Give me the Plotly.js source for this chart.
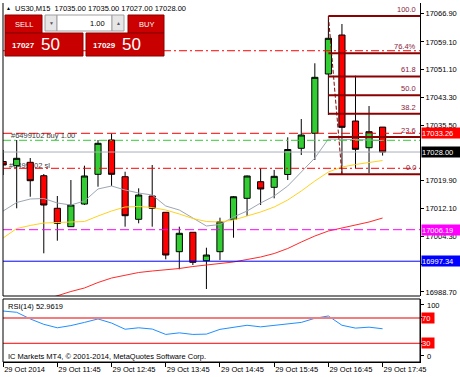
<!DOCTYPE html>
<html><head><meta charset="utf-8">
<script src="https://cdn.plot.ly/plotly-3.0.1.min.js"></script>
<style>html,body{margin:0;padding:0;background:#fff;overflow:hidden}#chart{width:460px;height:377px}</style>
</head><body><div id="chart"></div>
<script>
// ---- data (US30, M15, 29 Oct 2014) ----
const times = ['10:45','11:00','11:15','11:30','11:45','12:00','12:15','12:30','12:45','13:00','13:15','13:30','13:45','14:00','14:15','14:30','14:45','15:00','15:15','15:30','15:45','16:00','16:15','16:30','16:45','17:00','17:15','17:30','17:45'];
const opens  = [17025.34,17024.16,17025.11,17021.35,17012.20,17007.03,17013.40,17021.74,17031.38,17021.07,17009.11,17015.65,17011.07,17000.01,17005.46,16997.48,17000.01,17009.11,17015.00,17019.67,17018.09,17021.69,17029.05,17033.26,17049.91,17060.86,17036.71,17029.21,17035.00];
const highs  = [17028.57,17031.38,17026.32,17021.83,17015.65,17020.14,17024.16,17031.38,17033.20,17022.47,17017.81,17024.36,17011.15,17007.03,17005.54,17001.13,17009.56,17015.65,17021.41,17023.43,17022.95,17032.13,17037.27,17052.92,17066.06,17063.95,17049.43,17040.92,17035.00];
const lows   = [17021.55,17012.20,17015.45,16999.56,17003.10,17006.94,17013.12,17018.26,17018.46,17007.03,17007.98,17007.03,16997.87,16995.07,16996.27,16989.53,16997.68,17003.94,17010.03,17013.12,17015.00,17020.14,17027.16,17025.76,17038.40,17021.74,17023.43,17022.02,17027.00];
const closes = [17024.36,17026.24,17019.95,17013.12,17007.98,17013.12,17021.27,17030.45,17021.74,17010.12,17015.93,17012.20,16999.08,17005.18,16997.03,16999.08,17008.43,17015.45,17021.27,17017.62,17021.18,17028.71,17032.78,17048.98,17059.94,17034.94,17028.76,17033.71,17028.00];
const maGray   = [17011.44,17013.83,17014.81,17014.95,17013.69,17013.12,17014.25,17017.62,17018.46,17017.34,17016.49,17015.93,17012.84,17011.72,17009.47,17007.23,17007.65,17009.75,17011.44,17013.69,17015.65,17018.46,17022.39,17026.32,17031.66,17031.66,17031.52,17031.38,17031.24];
const maYellow = [17003.86,17006.52,17007.37,17008.07,17008.21,17008.35,17008.49,17010.03,17011.44,17012.56,17012.70,17012.42,17011.72,17010.60,17009.33,17008.49,17008.35,17008.91,17010.03,17011.16,17012.56,17014.53,17017.05,17019.86,17022.39,17023.79,17024.50,17025.06,17025.62];
const maRed    = [null,null,null,16986.45,16987.71,16988.83,16989.82,16991.36,16992.62,16993.47,16994.17,16994.59,16994.87,16995.29,16995.85,16996.27,16996.70,16997.12,16997.82,16998.52,16999.50,17000.91,17002.73,17004.42,17005.82,17006.66,17007.37,17008.35,17009.47];
const rsi      = [81,79,68.5,60,54.5,58,63,68.5,62,52.2,54.5,52.5,44,46.5,44,44.5,52,55.3,58.5,56,58.5,60.5,63,69.5,73.2,58.5,54,55.5,52.96];

const tickTimes = ['10:45','11:45','12:45','13:45','14:45','15:45','16:45','17:45'];
const tickText  = ['29 Oct 2014','29 Oct 11:45','29 Oct 12:45','29 Oct 13:45','29 Oct 14:45','29 Oct 15:45','29 Oct 16:45','29 Oct 17:45'];
const priceTicks = [16988.70,16996.50,17004.30,17012.10,17019.90,17035.50,17043.30,17051.10,17058.90,17066.90];
const priceTickText = ['16988.70','','17004.30','17012.10','17019.90','17035.50','17043.30','17051.10','17059.10','17066.90'];
const rsiTicks = [9.9, 30, 70, 90.6];
const rsiTickText = ['0', '30', '70', '100'];

const tpPrice = 17056.45, openPrice = 17033.26, greenLine = 17031.29, bid = 17028.00, slPrice = 17023.43, magentaPrice = 17006.19, bluePrice = 16997.34;
const fibHigh = 17066.20, fibLow = 17021.74, fibStart = '16:45', fibEnd = '17:00';
const fibLevels = [0, 23.6, 38.2, 50, 61.8, 76.4, 100];
const fibLabels = ['0.0','23.6','38.2','50.0','61.8','76.4%','100.0'];

// ---- layout helpers (pixel -> paper) ----
const PX = px => (px - 3) / 417;
const PY = py => (362 - py) / 359;
const FONT = 'Liberation Sans, Arial, sans-serif';
const FS = 7.5;

const traces = [
  {type:'candlestick', x:times, open:opens, high:highs, low:lows, close:closes, xaxis:'x', yaxis:'y',
   increasing:{line:{color:'#000',width:1}, fillcolor:'#32CD32'},
   decreasing:{line:{color:'#000',width:1}, fillcolor:'#FF0000'},
   whiskerwidth:0, hoverinfo:'none'},
  {type:'scatter', mode:'lines', x:times, y:maGray, line:{color:'#9CA6B2',width:1}, yaxis:'y', hoverinfo:'none'},
  {type:'scatter', mode:'lines', x:times, y:maYellow, line:{color:'#FFD21F',width:1}, yaxis:'y', hoverinfo:'none'},
  {type:'scatter', mode:'lines', x:times, y:maRed, line:{color:'#FF2A2A',width:1}, yaxis:'y', hoverinfo:'none', connectgaps:false},
  {type:'scatter', mode:'lines', x:times, y:rsi, line:{color:'#1E90FF',width:1}, yaxis:'y2', hoverinfo:'none'}
];

const shapes = [];
function hline(y, color, dash, width, layer) {
  shapes.push({type:'line', xref:'paper', yref:'y', x0:0, x1:1, y0:y, y1:y, line:{color, dash, width:width||1}, layer:layer||'above'});
}
hline(tpPrice, '#FF0000', '8px,3px,2px,3px');
hline(openPrice, '#FF0000', '9px,4px');
hline(greenLine, '#32CD32', '8px,3px,2px,3px');
hline(bid, '#A8B0B8', 'solid');
hline(slPrice, '#FF0000', '8px,3px,2px,3px');
hline(magentaPrice, '#FF00FF', '9px,4px');
hline(bluePrice, '#0000FF', 'solid');

// Fibonacci retracement
fibLevels.forEach(l => {
  const p = fibLow + (fibHigh - fibLow) * l / 100;
  shapes.push({type:'line', xref:'x', yref:'y', x0:fibStart, x1:31, y0:p, y1:p, line:{color:'#8B0000', width:2}});
});
shapes.push({type:'line', xref:'x', yref:'y', x0:fibStart, x1:fibEnd, y0:fibHigh, y1:fibLow, line:{color:'#8B0000', width:1, dash:'4px,2px'}});

// RSI levels
shapes.push({type:'line', xref:'paper', yref:'y2', x0:0, x1:1, y0:70, y1:70, line:{color:'#F47C7C', width:2}});
shapes.push({type:'line', xref:'paper', yref:'y2', x0:0, x1:1, y0:30, y1:30, line:{color:'#FF0000', width:1}});

// frames
shapes.push({type:'line', xref:'paper', yref:'y domain', x0:0, x1:0, y0:0, y1:1, line:{color:'#000', width:1}});
shapes.push({type:'line', xref:'paper', yref:'y domain', x0:0, x1:1, y0:0, y1:0, line:{color:'#000', width:1}});
shapes.push({type:'rect', xref:'paper', yref:'y2 domain', x0:0, x1:1, y0:0, y1:1, line:{color:'#000', width:1}});

// SL label sits behind the candles
shapes.push({type:'rect', xref:'paper', yref:'paper', x0:PX(4), x1:PX(70), y0:PY(169), y1:PY(160), line:{width:0}, fillcolor:'rgba(0,0,0,0)', layer:'below',
  label:{text:'#6499102 sl', textposition:'middle left', padding:2, font:{family:FONT, size:FS, color:'#404040'}}});

// trade panel
function box(x0,x1,y0,y1,fill,line){ shapes.push({type:'rect', xref:'paper', yref:'paper', x0:PX(x0), x1:PX(x1), y0:PY(y1), y1:PY(y0), fillcolor:fill, line:{color:line, width:1}}); }
box(5,42,15,33,'#CC0000','#8B0000');
box(45,57,15,31,'#E6E6E6','#A0A0A0');
box(57,112,15,31,'#FFFFFF','#A0A0A0');
box(112,124,15,31,'#E6E6E6','#A0A0A0');
box(128,164,15,33,'#CC0000','#8B0000');
box(5,83,33,56,'#C80000','#8B0000');
box(86,164,33,56,'#C80000','#8B0000');

const annotations = [];
function txt(x, y, text, opts) {
  annotations.push(Object.assign({xref:'paper', yref:'paper', x:PX(x), y:PY(y), text, showarrow:false, xanchor:'left', yanchor:'middle',
    font:{family:FONT, size:FS, color:'#000'}}, opts||{}));
}
txt(4, 8, '▲', {font:{family:FONT, size:5, color:'#000'}});
txt(13, 8, 'US30,M15  17035.00 17035.00 17027.00 17028.00');
txt(23.5, 24, 'SELL', {xanchor:'center', font:{family:FONT, size:FS, color:'#FFF'}});
txt(146, 24, 'BUY', {xanchor:'center', font:{family:FONT, size:FS, color:'#FFF'}});
txt(51, 23, '▼', {xanchor:'center', font:{family:FONT, size:5, color:'#556'}});
txt(118, 23, '▲', {xanchor:'center', font:{family:FONT, size:5, color:'#556'}});
txt(107, 23, '1.00', {xanchor:'right'});
txt(10, 46, '<b>17027</b>', {font:{family:FONT, size:8, color:'#FFF'}});
txt(39, 44, '50', {font:{family:FONT, size:17, color:'#FFF'}});
txt(91, 46, '<b>17029</b>', {font:{family:FONT, size:8, color:'#FFF'}});
txt(120, 44, '50', {font:{family:FONT, size:17, color:'#FFF'}});
txt(9, 136, '#6499102 buy 1.00', {font:{family:FONT, size:FS, color:'#404040'}});
txt(6, 306, 'RSI(14) 52.9619');
txt(6, 356, 'IC Markets MT4, © 2001-2014, MetaQuotes Software Corp.');
// RSI scale end labels
txt(425, 305, rsiTickText[3]);
txt(425, 356, rsiTickText[0]);

// fib labels
fibLevels.forEach((l, k) => {
  const p = fibLow + (fibHigh - fibLow) * l / 100;
  annotations.push({xref:'paper', yref:'y', x:PX(418), y:p, text:fibLabels[k], showarrow:false, xanchor:'right', yanchor:'bottom',
    font:{family:FONT, size:FS, color:'#8B1A3A'}});
});

// price label boxes on the right axis
function plabel(y, text, bg, yref) {
  annotations.push({xref:'paper', yref:yref||'y', x:1, y, xanchor:'left', yanchor:'middle', xshift:1, text, showarrow:false,
    bgcolor:bg, borderpad:0, width: text.length > 3 ? 38 : 12, height:10, align:'left',
    font:{family:FONT, size:FS, color:'#FFF'}});
}
plabel(openPrice, '17033.26', '#FF0000');
plabel(bid, '17028.00', '#000000');
plabel(magentaPrice, '17006.19', '#FF00FF');
plabel(bluePrice, '16997.34', '#0000FF');
plabel(70, rsiTickText[2], '#FF0000', 'y2');
plabel(30, rsiTickText[1], '#FF0000', 'y2');

const layout = {
  width:460, height:377, margin:{l:3, r:40, t:3, b:15, pad:0},
  paper_bgcolor:'#fff', plot_bgcolor:'#fff', showlegend:false,
  font:{family:FONT, size:FS, color:'#000'},
  boxgap:0.35, hovermode:false, dragmode:false,
  xaxis:{type:'category', range:[-0.01, 30.76], anchor:'y2', tickvals:tickTimes, ticktext:tickText,
    ticks:'outside', ticklen:4, tickcolor:'#000', ticklabelposition:'outside right', showgrid:false, zeroline:false,
    showline:true, linecolor:'#000', rangeslider:{visible:false}, fixedrange:true, tickfont:{family:FONT, size:FS}},
  yaxis:{domain:[0.18384, 1], range:[16987.57, 17069.85], side:'right', anchor:'x', tickvals:priceTicks, ticktext:priceTickText,
    ticks:'outside', ticklen:3, tickcolor:'#000', showgrid:false, zeroline:false, showline:true, linecolor:'#000', fixedrange:true,
    tickfont:{family:FONT, size:FS}},
  yaxis2:{domain:[0, 0.17549], range:[0.4, 100.04], side:'right', anchor:'x', tickvals:rsiTicks, showticklabels:false,
    ticks:'outside', ticklen:3, tickcolor:'#000', showgrid:false, zeroline:false, showline:true, linecolor:'#000', fixedrange:true},
  shapes, annotations
};

Plotly.newPlot('chart', traces, layout, {staticPlot:true, displayModeBar:false});
</script></body></html>
